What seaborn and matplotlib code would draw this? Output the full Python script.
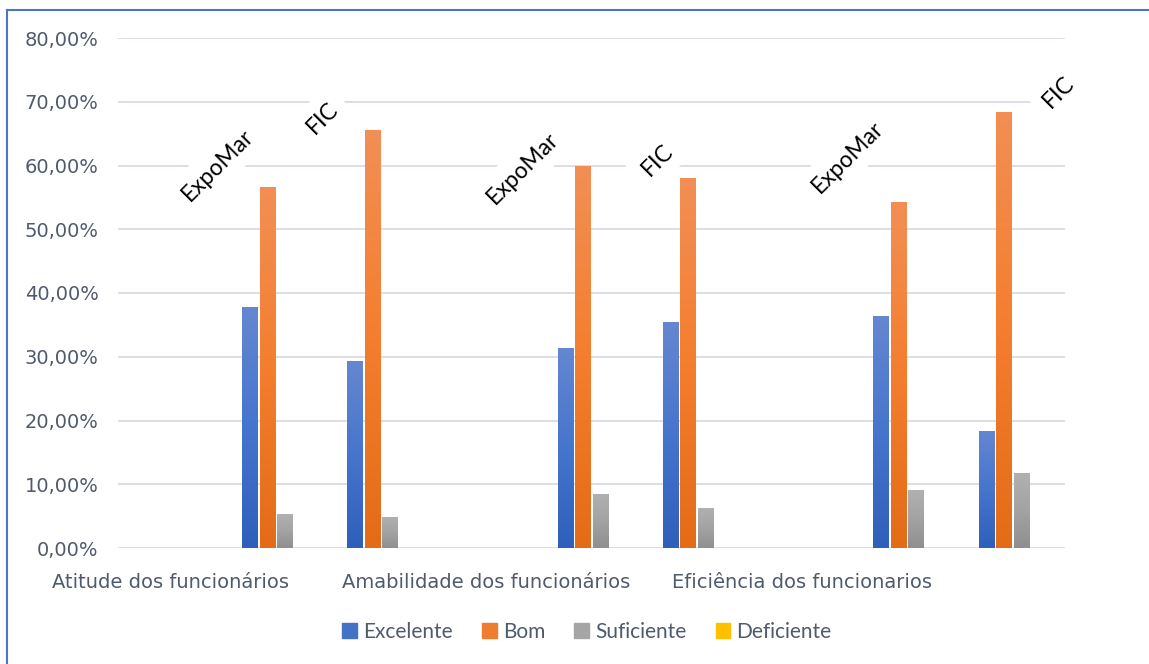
import numpy as np
import pandas as pd
import matplotlib
matplotlib.use("Agg")
import matplotlib.pyplot as plt
import seaborn as sns
from matplotlib.colors import LinearSegmentedColormap
from matplotlib.lines import Line2D

# categorias (3 perguntas x 2 eventos, com um espaço vazio antes de cada pergunta)
perguntas = ["Atitude dos funcionários", "Amabilidade dos funcionários", "Eficiência dos funcionarios"]
eventos = ["ExpoMar", "FIC"]
series = ["Excelente", "Bom", "Suficiente", "Deficiente"]

# valores em % por série, ordem: Atitude-ExpoMar, Atitude-FIC, Amab-ExpoMar, Amab-FIC, Efic-ExpoMar, Efic-FIC
excelente = [37.8, 29.3, 31.4, 35.4, 36.4, 18.4]
bom = [56.6, 65.6, 59.9, 58.0, 54.3, 68.4]
suficiente = [5.3, 4.9, 8.5, 6.3, 9.1, 11.8]
deficiente = [0.0, 0.0, 0.0, 0.0, 0.0, 0.0]

# ordem das posições no eixo x (9 espaços)
slots = []
for i, p in enumerate(perguntas):
    slots.append(p)
    for e in eventos:
        slots.append(f"{e}_{i}")
bar_slots = [s for s in slots if s not in perguntas]

rows = []
for nome, vals in zip(series, [excelente, bom, suficiente, deficiente]):
    for s, v in zip(bar_slots, vals):
        rows.append({"slot": s, "serie": nome, "valor": v})
df = pd.DataFrame(rows)

cores = ["#4472C4", "#ED7D31", "#A5A5A5", "#FFC000"]
gradientes = [
    ["#2E5FBA", "#4675CD", "#6587D0"],
    ["#E46C17", "#F47E2E", "#F28F55"],
    ["#8F8F8F", "#A3A3A3", "#B1B1B1"],
    ["#F0B400", "#FFC000", "#FFD040"],
]
texto_cor = "#4F5B6C"

fig = plt.figure(figsize=(11.49, 6.64), dpi=100)
ax = fig.add_axes([118 / 1149, 1 - 548 / 664, 947 / 1149, 510 / 664])

plt.rcParams['font.family'] = ['Lato', 'DejaVu Sans']

sns.barplot(data=df, x="slot", y="valor", hue="serie", order=slots, hue_order=series,
            palette=cores, width=0.665, gap=0.14, ax=ax, legend=False, saturation=1)

# preenchimento em gradiente tipo Excel
grad = np.linspace(0, 1, 256).reshape(-1, 1)
for cont, g in zip(ax.containers, gradientes):
    cmap = LinearSegmentedColormap.from_list("g", g)
    for patch in cont:
        h = patch.get_height()
        if not h or np.isnan(h):
            continue
        x0 = patch.get_x()
        w = patch.get_width()
        patch.set_facecolor("none")
        im = ax.imshow(grad, cmap=cmap, origin="lower", aspect="auto",
                       extent=[x0, x0 + w, 0, h], zorder=2)
        im.set_clip_path(patch)
ax.set_xlim(-0.5, 8.5)
ax.set_ylim(0, 80)

# grade e eixos
ax.set_yticks(np.arange(0, 81, 10))
ax.set_yticklabels([f"{v:.2f}%".replace(".", ",") for v in np.arange(0, 81, 10)])
ax.yaxis.grid(True, color="#DADEE4", linewidth=1.4)
ax.set_axisbelow(True)
for sp in ax.spines.values():
    sp.set_visible(False)
ax.tick_params(axis="y", length=0, labelsize=14, colors=texto_cor, pad=14)
ax.tick_params(axis="x", length=0, labelsize=14, colors=texto_cor, pad=18)
ax.set_xticks([slots.index(p) for p in perguntas])
ax.set_xticklabels(perguntas)
ax.set_xlabel("")
ax.set_ylabel("")

# rótulos dos eventos (caixas de texto rodadas)
rotulos_pos = [(0.45, 60.1), (1.44, 67.5), (3.35, 59.5), (4.63, 60.9), (6.44, 61.3), (8.44, 71.5)]
for (x, y), nome in zip(rotulos_pos, eventos * 3):
    ax.text(x, y, nome, rotation=45, ha="center", va="center", fontsize=16.5, color="black",
            bbox=dict(facecolor="white", edgecolor="none", pad=7), clip_on=False, zorder=1)

# legenda
handles = [plt.Rectangle((0, 0), 1, 1, color=c) for c in cores]
fig.legend(handles, series, loc="center", bbox_to_anchor=(587 / 1149, 1 - 632 / 664), ncol=4,
           frameon=False, fontsize=15, labelcolor=texto_cor, handlelength=0.7, handleheight=0.7,
           handletextpad=0.3, columnspacing=1.4)

# moldura do gráfico
fig.add_artist(Line2D([7 / 1149, 7 / 1149], [0, 1 - 10 / 664], color="#4A76C9", linewidth=1.5))
fig.add_artist(Line2D([7 / 1149, 1], [1 - 10 / 664, 1 - 10 / 664], color="#4A76C9", linewidth=1.5))

plt.savefig("out.png", dpi=100)
